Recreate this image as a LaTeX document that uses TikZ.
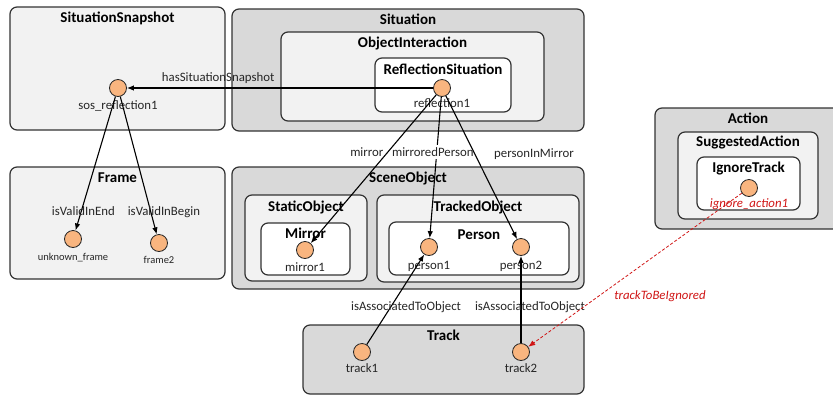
\documentclass[tikz,border=0pt]{standalone}
\usepackage{fontspec}
\setmainfont{Carlito}
\usetikzlibrary{fit,arrows.meta}
\definecolor{dkfill}{HTML}{D9D9D9}
\definecolor{ltfill}{HTML}{F2F2F2}
\definecolor{indfill}{HTML}{F9B57F}
\definecolor{relred}{HTML}{D01515}
\begin{document}
\begin{tikzpicture}[x=1pt,y=-1pt,
  box/.style={draw=black!80, line width=1.2pt, rounded corners=7pt, inner sep=0pt},
  dkbox/.style={box, fill=dkfill},
  ltbox/.style={box, fill=ltfill},
  whbox/.style={box, fill=white},
  title/.style={font=\fontsize{15}{18}\selectfont\bfseries, inner sep=0pt, text height=9.6pt, text depth=0pt},
  ind/.style={circle, draw=black!85, line width=0.8pt, fill=indfill, minimum size=17pt, inner sep=0pt},
  lbl/.style={font=\fontsize{12.8}{15}\selectfont, inner sep=0pt, text height=8.2pt, text depth=0pt, text=black!85},
  sml/.style={font=\fontsize{10.5}{12}\selectfont, inner sep=0pt, text height=6.8pt, text depth=0pt, text=black!85},
  redlbl/.style={lbl, font=\fontsize{12.8}{15}\selectfont\itshape, text=relred},
  rel/.style={draw=black, line width=1.1pt, -{Latex[length=7pt,width=5.5pt]}},
  redrel/.style={draw=relred, line width=0.8pt, dash pattern=on 3pt off 2pt, -{Latex[length=7pt,width=5.5pt]}},
  ]
\useasboundingbox (0,0) rectangle (833,397);
\clip (0,0) rectangle (833,397);
\fill[white] (0,0) rectangle (833,397);

% class boxes
\node[ltbox, fit={(10,7) (225,130)}] (snapbox) {};
\node[dkbox, fit={(232,9) (584,131)}] (sitbox) {};
\node[ltbox, fit={(281,32) (544,121)}] (oibox) {};
\node[whbox, fit={(375,58) (511,112)}] (rsbox) {};
\node[ltbox, fit={(10,167) (225,279)}] (framebox) {};
\node[dkbox, fit={(232,167) (584,289)}] (scenebox) {};
\node[ltbox, fit={(245,195) (367,281)}] (staticbox) {};
\node[whbox, fit={(261,223) (350,275)}] (mirrorbox) {};
\node[ltbox, fit={(377,195) (579,282)}] (trackedbox) {};
\node[whbox, fit={(389,222) (569,275)}] (personbox) {};
\node[dkbox, fit={(303,325) (584,394)}] (trackbox) {};
\node[dkbox, fit={(655,108) (842,229)}] (actionbox) {};
\node[ltbox, fit={(678,132) (818,219)}] (suggbox) {};
\node[whbox, fit={(697,157) (800,210)}] (ignbox) {};

% class titles
\node[title] (snapT) at (117.5,18) {SituationSnapshot};
\node[title] (sitT) at (408,20) {Situation};
\node[title] (oiT) at (412.5,43) {ObjectInteraction};
\node[title] (rsT) at (443,70) {ReflectionSituation};
\node[title] (frameT) at (117.5,178) {Frame};
\node[title] (sceneT) at (408,178) {SceneObject};
\node[title] (staticT) at (306,207) {StaticObject};
\node[title] (mirrorT) at (305.5,234) {Mirror};
\node[title] (trackedT) at (478,207) {TrackedObject};
\node[title] (personT) at (479,235) {Person};
\node[title] (trackT) at (443.5,336) {Track};
\node[title] (actionT) at (748,119) {Action};
\node[title] (suggT) at (748,142) {SuggestedAction};
\node[title] (ignT) at (748.5,168) {IgnoreTrack};

% individuals
\node[ind, label={[lbl,yshift=-17.5pt]center:sos\_reflection1}] (sos) at (118,88) {};
\node[ind, label={[lbl,yshift=-15.5pt]center:reflection1}] (r1) at (442,88) {};
\node[ind, label={[sml,yshift=-18pt]center:unknown\_frame}] (uf) at (73,239) {};
\node[ind, label={[sml,yshift=-17pt]center:frame2}] (f2) at (159,243) {};
\node[ind, label={[lbl,yshift=-17.5pt]center:mirror1}] (m1) at (305,250) {};
\node[ind, label={[lbl,yshift=-18pt]center:person1}] (p1) at (429,247) {};
\node[ind, label={[lbl,yshift=-18pt]center:person2}] (p2) at (521,247) {};
\node[ind, label={[lbl,yshift=-16.5pt]center:track1}] (t1) at (362,352) {};
\node[ind, label={[lbl,yshift=-16.5pt]center:track2}] (t2) at (521,352) {};
\node[ind, label={[redlbl,yshift=-15pt]center:ignore\_action1}] (ia) at (749,188) {};

% relations
\draw[rel] (r1) -- node[lbl, pos=0.702, yshift=11pt] {hasSituationSnapshot} (sos);
\draw[rel] (r1) -- node[lbl, pos=0.391, xshift=-4pt, fill=white, inner xsep=1pt, inner ysep=3pt] {mirroredPerson} (p1);
\draw[rel] (r1) -- node[lbl, pos=0.386, xshift=-21pt] {mirror} (m1);
\draw[rel] (r1) -- node[lbl, pos=0.399, xshift=59.7pt] {personInMirror} (p2);
\draw[rel] (sos) -- node[lbl, pos=0.86, xshift=2.3pt] {isValidInEnd} (uf);
\draw[rel] (sos) -- node[lbl, pos=0.835, xshift=13.2pt] {isValidInBegin} (f2);
\draw[rel] (t1) -- node[lbl, pos=0.428, xshift=14.7pt] {isAssociatedToObject} (p1);
\draw[rel] (t2) -- node[lbl, pos=0.426, xshift=9pt] {isAssociatedToObject} (p2);
\draw[redrel] (ia) -- node[redlbl, pos=0.383, yshift=-43pt] {trackToBeIgnored} (t2);
\end{tikzpicture}
\end{document}
